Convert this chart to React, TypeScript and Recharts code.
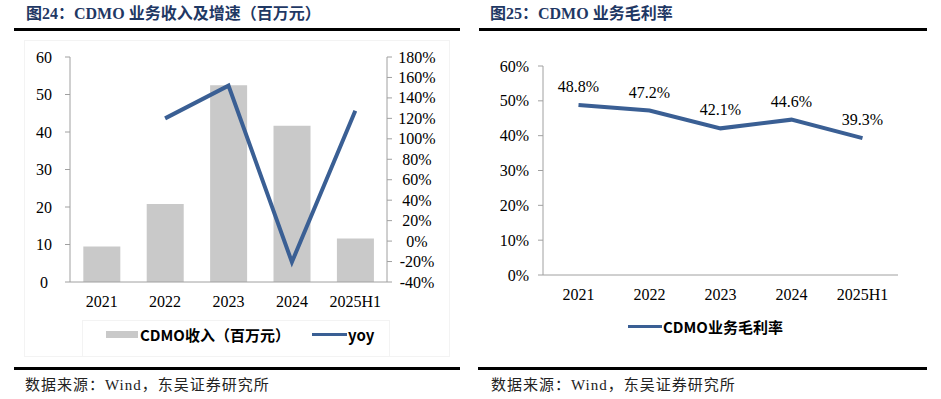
import React from "react";
import { ComposedChart, Bar, Line, XAxis, YAxis, LabelList } from "recharts";

const years = ["2021", "2022", "2023", "2024", "2025H1"];
const revenue = [9.5, 20.8, 52.5, 41.7, 11.6];
const yoy: (number | null)[] = [null, 120, 152, -20.5, 127.5];
const grossMargin = [48.8, 47.2, 42.1, 44.6, 39.3];
const revTicks = [0, 10, 20, 30, 40, 50, 60];
const yoyTicks = [-40, -20, 0, 20, 40, 60, 80, 100, 120, 140, 160, 180];
const marginTicks = [0, 10, 20, 30, 40, 50, 60];

const leftData = years.map((y, i) => ({ year: y, revenue: revenue[i], yoy: yoy[i] }));
const rightData = years.map((y, i) => ({ year: y, margin: grossMargin[i] }));

const BLUE = "#3A5F94";
const GRAY_BAR = "#C9C9C9";
const AXIS = "#A0A0A0";
const serif = "'Liberation Serif', 'Times New Roman', serif";
const cjk = "'Liberation Serif', 'Noto Sans CJK SC', serif";
const legendFont = "'Liberation Sans Narrow', 'Noto Sans CJK SC', sans-serif";

const XTick = (props: any) => (
  <text x={props.x} y={props.y + 19} textAnchor="middle" dominantBaseline="central"
    fontFamily={serif} fontSize={16} fill="#000">{props.payload.value}</text>
);

const RevTick = (props: any) => (
  <text x={props.x - 21} y={props.y} textAnchor="middle" dominantBaseline="central"
    fontFamily={serif} fontSize={16} fill="#000">{props.payload.value}</text>
);

const YoyTick = (props: any) => (
  <text x={props.x + 25} y={props.y} textAnchor="middle" dominantBaseline="central"
    fontFamily={serif} fontSize={16} fill="#000">{props.payload.value}%</text>
);

const MarginTick = (props: any) => (
  <text x={props.x - 9} y={props.y} textAnchor="end" dominantBaseline="central"
    fontFamily={serif} fontSize={16} fill="#000">{props.payload.value}%</text>
);

const rule = (left: number, top: number, width: number) => (
  <div style={{ position: "absolute", left, top, width, height: 3, background: "#000" }} />
);

const App: React.FC = () => {
  return (
    <div style={{ position: "absolute", left: 0, top: 0, width: 941, height: 399, background: "#fff", overflow: "hidden" }}>
      {/* titles */}
      <div style={{ position: "absolute", left: 26, top: 4, fontFamily: cjk, fontWeight: "bold", fontSize: 16, color: "#1F3864", whiteSpace: "nowrap", lineHeight: "20px" }}>
        图24：CDMO 业务收入及增速（百万元）
      </div>
      <div style={{ position: "absolute", left: 490, top: 4, fontFamily: cjk, fontWeight: "bold", fontSize: 16, color: "#1F3864", whiteSpace: "nowrap", lineHeight: "20px" }}>
        图25：CDMO 业务毛利率
      </div>
      {rule(14, 28, 446)}
      {rule(479, 28, 448)}

      {/* faint frames */}
      <div style={{ position: "absolute", left: 24, top: 40, width: 426, height: 317, border: "1px solid #F3F3F3", boxSizing: "border-box" }} />
      <div style={{ position: "absolute", left: 82, top: 320, width: 308, height: 37, border: "1px solid #F3F3F3", boxSizing: "border-box" }} />

      {/* left chart */}
      <div style={{ position: "absolute", left: 0, top: 0 }}>
        <ComposedChart width={470} height={360} data={leftData}
          margin={{ top: 57, right: 23, bottom: 48, left: 10 }} barCategoryGap="21%">
          <XAxis dataKey="year" stroke={AXIS} tickSize={0} tickMargin={0} tick={<XTick />} height={30} interval={0} />
          <YAxis yAxisId="rev" domain={[0, 60]} ticks={revTicks} width={60} stroke={AXIS}
            tickSize={5} tickMargin={0} tick={<RevTick />} interval={0} />
          <YAxis yAxisId="yoy" orientation="right" domain={[-40, 180]} ticks={yoyTicks} width={60}
            stroke={AXIS} tickSize={5} tickMargin={0} tick={<YoyTick />} interval={0} />
          <Bar yAxisId="rev" dataKey="revenue" fill={GRAY_BAR} isAnimationActive={false} />
          <Line yAxisId="yoy" dataKey="yoy" stroke={BLUE} strokeWidth={4} dot={false} isAnimationActive={false} />
        </ComposedChart>
      </div>

      {/* left legend */}
      <div style={{ position: "absolute", left: 106, top: 331, width: 32, height: 7, background: GRAY_BAR }} />
      <div style={{ position: "absolute", left: 140, top: 325, fontFamily: legendFont, fontWeight: "bold", fontSize: 15, lineHeight: "20px", whiteSpace: "nowrap" }}>
        CDMO收入（百万元）
      </div>
      <div style={{ position: "absolute", left: 312, top: 333, width: 35, height: 3, background: BLUE }} />
      <div style={{ position: "absolute", left: 348, top: 325, fontFamily: legendFont, fontWeight: "bold", fontSize: 15, lineHeight: "20px" }}>
        yoy
      </div>

      {/* right chart */}
      <div style={{ position: "absolute", left: 470, top: 0 }}>
        <ComposedChart width={471} height={360} data={rightData}
          margin={{ top: 66, right: 43, bottom: 55, left: 13 }}>
          <XAxis dataKey="year" scale="band" stroke={AXIS} tickSize={0} tickMargin={0} tick={<XTick />} height={30} interval={0} />
          <YAxis domain={[0, 60]} ticks={marginTicks} width={60} stroke={AXIS}
            tickSize={5} tickMargin={0} tick={<MarginTick />} interval={0} />
          <Line dataKey="margin" stroke={BLUE} strokeWidth={4} dot={false} isAnimationActive={false}>
            <LabelList dataKey="margin" position="top" offset={13}
              formatter={(v: any) => `${Number(v).toFixed(1)}%`}
              style={{ fontFamily: serif, fontSize: 16, fill: "#000" }} />
          </Line>
        </ComposedChart>
      </div>

      {/* right legend */}
      <div style={{ position: "absolute", left: 628, top: 325, width: 34, height: 3, background: BLUE }} />
      <div style={{ position: "absolute", left: 663, top: 317, fontFamily: legendFont, fontWeight: "bold", fontSize: 15, lineHeight: "20px", whiteSpace: "nowrap" }}>
        CDMO业务毛利率
      </div>

      {/* bottom rules and sources */}
      {rule(14, 367, 446)}
      {rule(478, 367, 449)}
      <div style={{ position: "absolute", left: 25, top: 375, fontFamily: cjk, fontSize: 15, letterSpacing: 1, lineHeight: "20px", color: "#222", whiteSpace: "nowrap" }}>
        数据来源：Wind，东吴证券研究所
      </div>
      <div style={{ position: "absolute", left: 491, top: 375, fontFamily: cjk, fontSize: 15, letterSpacing: 1, lineHeight: "20px", color: "#222", whiteSpace: "nowrap" }}>
        数据来源：Wind，东吴证券研究所
      </div>
    </div>
  );
};

export default App;
